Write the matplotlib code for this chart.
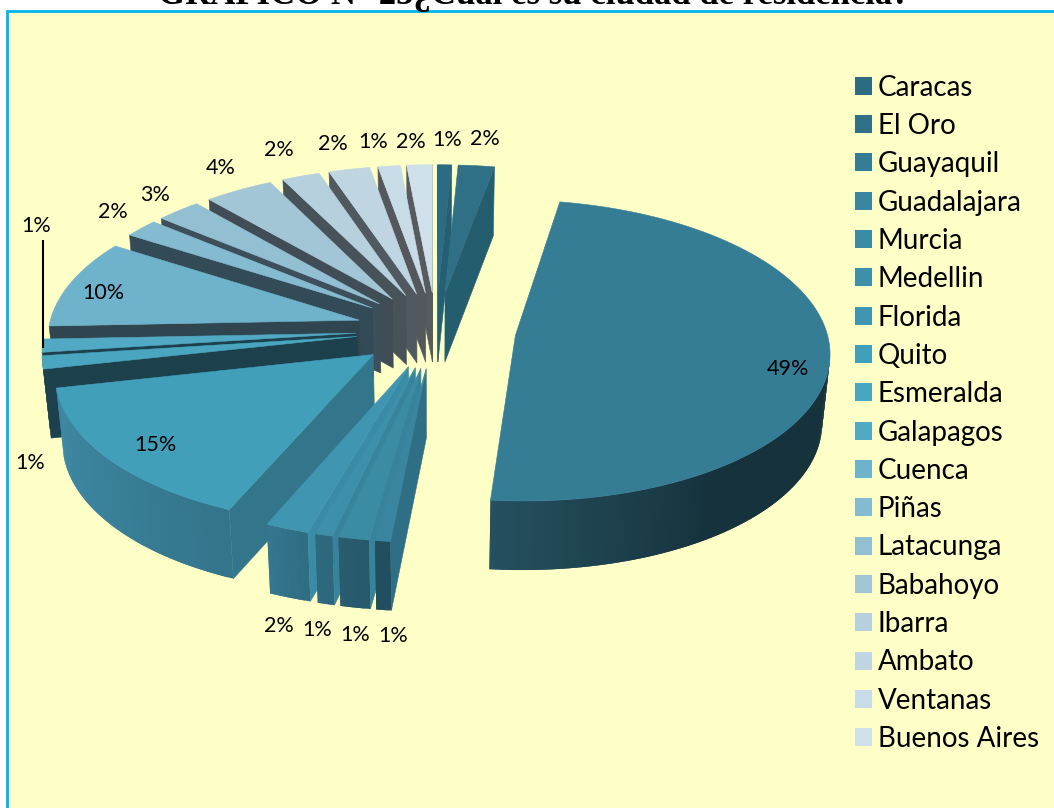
import numpy as np
import matplotlib
matplotlib.use("Agg")
import matplotlib.pyplot as plt
from matplotlib.colors import LinearSegmentedColormap
from matplotlib.patches import Patch, Polygon, Rectangle

# ---- Data ----
cities = ["Caracas", "El Oro", "Guayaquil", "Guadalajara", "Murcia", "Medellin",
          "Florida", "Quito", "Esmeralda", "Galapagos", "Cuenca", "Piñas",
          "Latacunga", "Babahoyo", "Ibarra", "Ambato", "Ventanas", "Buenos Aires"]
shares = [0.8, 2.1, 48.6, 0.7, 1.4, 0.8, 2.0, 15.1, 1.4, 1.4, 9.6, 2.0, 2.6, 4.0,
          2.2, 2.4, 1.3, 1.5]

# ---- Colours ----
top_colors = ["#2c6b80", "#2f7087", "#357d95", "#3a86a0", "#3c8ba5", "#3e90aa",
              "#4096b0", "#429fba", "#4aa6c0", "#52a9c3", "#6fb2cb", "#84bbd0",
              "#92c0d2", "#a3c6d6", "#b6d0dd", "#bfd6e2", "#c8dce7", "#cfe0ea"]
cut_colors = ["#245f72", "#245e6e", "#16333d", "#2f6f85", "#38839c", "#38839c",
              "#3a8ca6", "#33768b", "#1c404c", "#1c404c", "#2f454f", "#334b56",
              "#3c4f5a", "#414d56", "#485259", "#50595f", "#54585d", "#575a5e"]
rim_stops = {
    2: [(0, "#16333d"), (0.78, "#16333d"), (1, "#25505f")],
    3: [(0, "#224f5f"), (1, "#224f5f")],
    4: [(0, "#27596b"), (1, "#285c6e")],
    5: [(0, "#2d687d"), (1, "#2e6a7f")],
    6: [(0, "#2f6c82"), (1, "#34788f")],
    7: [(0, "#33758b"), (1, "#3f8aa6")],
    8: [(0, "#1c404c"), (1, "#1c404c")],
    9: [(0, "#1c404c"), (1, "#1c404c")],
}

# ---- Pie geometry (pixels of the reference picture) ----
cx, cy = 436, 330
rx, ry = 311, 148
persp = 0.1
explode = 0.257
depth = 69

def project(px, py):
    s = 1 / (1 + persp * py)
    return cx + rx * px * s, cy - ry * py * s

def floor_x(x):
    return cx + (x - cx) * 0.98

fig = plt.figure(figsize=(10.54, 8.08), dpi=100, facecolor="white")
ax = fig.add_axes([0, 0, 1, 1])
ax.set_xlim(0, 1054)
ax.set_ylim(808, 0)
ax.axis("off")

ax.add_patch(Rectangle((6.5, 10.5), 1100, 900, facecolor="#feffc6",
                       edgecolor="#00b4f0", linewidth=2))

total = sum(shares)
ends = np.cumsum(shares) / total * 2 * np.pi
starts = np.concatenate(([0], ends[:-1]))
mids = (starts + ends) / 2

def wall(p, q, color, lw=0.4):
    pts = [p, q, (floor_x(q[0]), q[1] + depth), (floor_x(p[0]), p[1] + depth)]
    ax.add_patch(Polygon(pts, closed=True, facecolor=color, edgecolor=color, linewidth=lw))

# far slices first, so the nearer ones paint over them
for i in np.argsort(-np.cos(mids)):
    ox, oy = explode * np.sin(mids[i]), explode * np.cos(mids[i])
    n = max(int(shares[i] * 4), 6)
    th = np.linspace(starts[i], ends[i], n + 1)
    apex = project(ox, oy)
    rim = [project(ox + np.sin(t), oy + np.cos(t)) for t in th]

    # cut faces
    if rim[0][0] < apex[0]:
        wall(apex, rim[0], cut_colors[i])
    if apex[0] < rim[-1][0]:
        wall(rim[-1], apex, cut_colors[i])

    # outer wall, in overlapping strips for the gradient
    stops = rim_stops.get(i, [(0, cut_colors[i]), (1, cut_colors[i])])
    cmap = LinearSegmentedColormap.from_list("rim", stops)
    for k in range(n):
        if rim[k + 1][0] < rim[k][0]:
            wall(rim[k], rim[min(k + 2, n)], cmap((k + 0.5) / n), lw=0)

    ax.add_patch(Polygon([apex] + rim, closed=True, facecolor=top_colors[i],
                         edgecolor=top_colors[i], linewidth=0.4))

# ---- Percent labels ----
label_xy = [(447, 140), (485, 139), (788, 369), (393, 636), (355, 635), (317, 630),
            (279, 626), (155, 445), (30, 463), (36, 226), (103, 293), (113, 212),
            (155, 195), (221, 168), (279, 150), (333, 144), (373, 142), (411, 142)]
for v, (x, y) in zip(shares, label_xy):
    ax.text(x, y, f"{round(v)}%", family="Lato", fontsize=15.5, color="black",
            ha="center", va="center")
ax.plot([43, 43], [240, 348], color="black", lw=1.5, solid_capstyle="butt")

# ---- Legend ----
handles = [Patch(facecolor=c, edgecolor="none", label=name)
           for c, name in zip(top_colors, cities)]
ax.legend(handles=handles, loc="upper left", bbox_to_anchor=(855, 74.5),
          bbox_transform=ax.transData, frameon=False, borderpad=0, borderaxespad=0,
          prop={"family": "Lato", "size": 20}, handlelength=0.61, handleheight=0.61,
          handletextpad=0.2, labelspacing=0.444)

# ---- Title, cut by the top edge as in the scan ----
ax.text(534, 3.5, "GRAFICO N° 25¿Cuál es su ciudad de residencia?", family="Liberation Serif",
        fontsize=25, fontweight="bold", ha="center", va="baseline", clip_on=False)

fig.savefig("out.png", dpi=100)
